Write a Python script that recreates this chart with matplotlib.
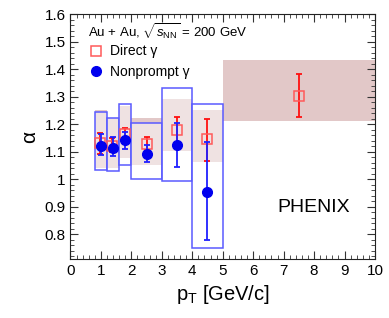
import numpy as np
import matplotlib
matplotlib.use('Agg')
import matplotlib.pyplot as plt
from matplotlib.lines import Line2D
from matplotlib.ticker import MultipleLocator

plt.rcParams['font.family'] = ['Liberation Sans', 'DejaVu Sans']
plt.rcParams['mathtext.fontset'] = 'custom'
plt.rcParams['mathtext.rm'] = 'Liberation Sans'
plt.rcParams['mathtext.it'] = 'Liberation Sans:italic'

# nonprompt photons
np_edges = [0.8, 1.2, 1.6, 2.0, 3.0, 4.0, 5.0]
np_pt = [1.0, 1.4, 1.8, 2.5, 3.5, 4.5]
np_alpha = [1.121, 1.113, 1.142, 1.092, 1.125, 0.955]
np_stat_hi = [1.165, 1.153, 1.173, 1.124, 1.206, 1.135]
np_stat_lo = [1.088, 1.085, 1.109, 1.063, 1.046, 0.779]
np_sys_lo = [1.034, 1.031, 1.051, 1.001, 0.993, 0.750]
np_sys_hi = [1.244, 1.222, 1.273, 1.204, 1.333, 1.273]

# direct photons
dir_edges = [0.8, 1.2, 1.6, 2.0, 3.0, 4.0, 5.0, 10.0]
dir_pt = [0.97, 1.38, 1.8, 2.5, 3.5, 4.5, 7.5]
dir_alpha = [1.131, 1.122, 1.164, 1.127, 1.179, 1.145, 1.304]
dir_stat_hi = [1.167, 1.151, 1.188, 1.153, 1.227, 1.220, 1.383]
dir_stat_lo = [1.093, 1.100, 1.133, 1.107, 1.128, 1.067, 1.225]
dir_sys_lo = [1.042, 1.042, 1.076, 1.050, 1.103, 1.062, 1.212]
dir_sys_hi = [1.252, 1.222, 1.265, 1.223, 1.292, 1.252, 1.434]

fig = plt.figure(figsize=(3.89, 3.18), dpi=100)
ax = fig.add_axes([0.181, 0.186, 0.783, 0.769])

# systematic boxes
dl = np.array(dir_edges[:-1])
dw = np.diff(dir_edges)
ax.bar(dl, np.array(dir_sys_hi) - np.array(dir_sys_lo), width=dw,
       bottom=dir_sys_lo, align='edge', color='#e2c8c8', linewidth=0, zorder=1)
nl = np.array(np_edges[:-1])
nw = np.diff(np_edges)
ax.bar(nl, np.array(np_sys_hi) - np.array(np_sys_lo), width=nw,
       bottom=np_sys_lo, align='edge', facecolor=(1, 1, 1, 0.48),
       edgecolor='#5a5aff', linewidth=1.1, zorder=2)

# direct points
da = np.array(dir_alpha)
ax.errorbar(dir_pt, dir_alpha,
            yerr=[da - np.array(dir_stat_lo), np.array(dir_stat_hi) - da],
            fmt='none', ecolor='#ff1010', elinewidth=1.3, capsize=2.5, capthick=1.3, zorder=3)
ax.plot(dir_pt, dir_alpha, 's', ms=7, mfc='none', mec='#ff5a5a', mew=1.1, zorder=4)

# nonprompt points
na = np.array(np_alpha)
ax.errorbar(np_pt, np_alpha,
            yerr=[na - np.array(np_stat_lo), np.array(np_stat_hi) - na],
            fmt='none', ecolor='#2020ff', elinewidth=1.3, capsize=2.5, capthick=1.3, zorder=5)
ax.plot(np_pt, np_alpha, 'o', ms=7, color='#0000ee', zorder=6)

ax.set_xlim(0, 10)
ax.set_ylim(0.71, 1.6)
ax.xaxis.set_major_locator(MultipleLocator(1))
ax.xaxis.set_minor_locator(MultipleLocator(0.2))
ax.yaxis.set_minor_locator(MultipleLocator(0.02))
ax.set_yticks([0.8, 0.9, 1.0, 1.1, 1.2, 1.3, 1.4, 1.5, 1.6])
ax.set_yticklabels(['0.8', '0.9', '1', '1.1', '1.2', '1.3', '1.4', '1.5', '1.6'])
ax.tick_params(which='both', direction='in', top=True, right=True, labelsize=11, color='#333333')
ax.tick_params(which='major', length=6)
ax.tick_params(which='minor', length=3)
for s in ax.spines.values():
    s.set_color('#222222')

ax.set_xlabel(r'p$_{\rm T}$ [GeV/c]', fontsize=14.5)
ax.set_ylabel('α', fontsize=15)

ax.text(0.058, 0.928, r'Au + Au, $\sqrt{s_{\rm NN}}$ = 200 GeV', transform=ax.transAxes,
        fontsize=9.5, va='center')
handles = [Line2D([], [], ls='none', marker='s', ms=6.5, mfc='none', mec='#ff5a5a', mew=1.1),
           Line2D([], [], ls='none', marker='o', ms=7, color='#0000ee')]
ax.legend(handles, ['Direct γ', 'Nonprompt γ'],
          loc='upper left', bbox_to_anchor=(0.061, 0.877), frameon=False,
          fontsize=10, handlelength=1.0, handletextpad=0.5, labelspacing=0.45,
          borderpad=0, borderaxespad=0)
ax.text(0.678, 0.19, 'PHENIX', transform=ax.transAxes, fontsize=14)

fig.savefig('out.png', dpi=100)
